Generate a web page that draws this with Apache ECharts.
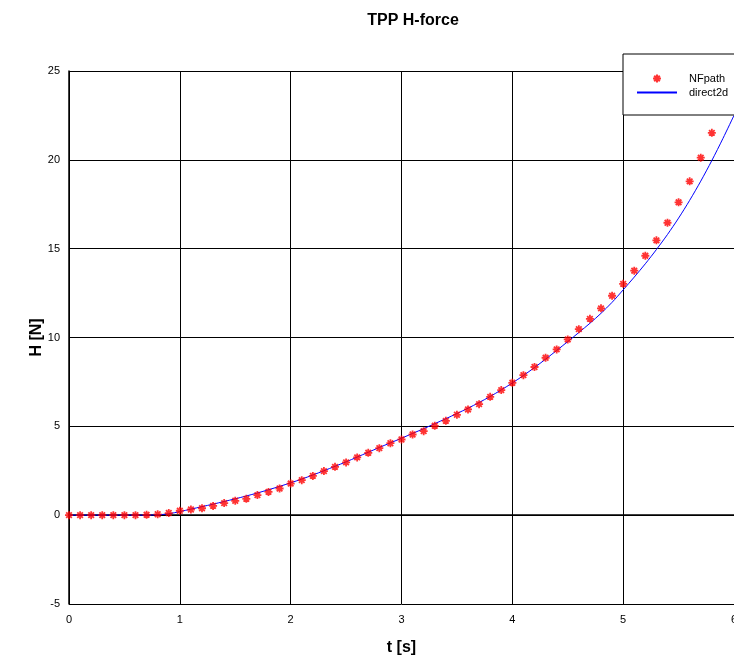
<!DOCTYPE html>
<html>
<head>
<meta charset="utf-8">
<script src="https://cdn.jsdelivr.net/npm/echarts@6/dist/echarts.min.js"></script>
<style>
  html, body { margin: 0; padding: 0; background: #fff; }
  #chart { width: 734px; height: 665px; }
</style>
</head>
<body>
<div id="chart"></div>
<script>
// NFpath samples (t step 0.1 s)
var nfT = [0, 0.1, 0.2, 0.3, 0.4, 0.5, 0.6, 0.7, 0.8, 0.9,
  1.0, 1.1, 1.2, 1.3, 1.4, 1.5, 1.6, 1.7, 1.8, 1.9,
  2.0, 2.1, 2.2, 2.3, 2.4, 2.5, 2.6, 2.7, 2.8, 2.9,
  3.0, 3.1, 3.2, 3.3, 3.4, 3.5, 3.6, 3.7, 3.8, 3.9,
  4.0, 4.1, 4.2, 4.3, 4.4, 4.5, 4.6, 4.7, 4.8, 4.9,
  5.0, 5.1, 5.2, 5.3, 5.4, 5.5, 5.6, 5.7, 5.8];
var nfH = [0, 0, 0, 0, 0, 0, 0, 0.02, 0.05, 0.12,
  0.25, 0.32, 0.39, 0.52, 0.68, 0.81, 0.92, 1.13, 1.31, 1.50,
  1.78, 1.97, 2.21, 2.48, 2.72, 2.97, 3.25, 3.51, 3.77, 4.05,
  4.26, 4.54, 4.73, 5.03, 5.31, 5.65, 5.95, 6.25, 6.66, 7.04,
  7.45, 7.88, 8.34, 8.86, 9.33, 9.89, 10.47, 11.05, 11.64, 12.35,
  13.02, 13.76, 14.60, 15.47, 16.46, 17.61, 18.79, 20.12, 21.52];

// direct2d curve
var d2T = [0, 0.2, 0.4, 0.6, 0.8, 0.9,
  1.0, 1.1, 1.2, 1.3, 1.4, 1.5, 1.6, 1.7, 1.8, 1.9,
  2.0, 2.1, 2.2, 2.3, 2.4, 2.5, 2.6, 2.7, 2.8, 2.9,
  3.0, 3.1, 3.2, 3.3, 3.4, 3.5, 3.6, 3.7, 3.8, 3.9,
  4.0, 4.1, 4.2, 4.3, 4.4, 4.5, 4.6, 4.7, 4.8, 4.9,
  5.0, 5.1, 5.2, 5.3, 5.4, 5.5, 5.6, 5.7, 5.8, 5.9, 6.0];
var d2H = [0, 0, 0, 0, 0.02, 0.08,
  0.2, 0.34, 0.48, 0.62, 0.77, 0.92, 1.08, 1.25, 1.43, 1.62,
  1.82, 2.03, 2.26, 2.50, 2.75, 3.00, 3.27, 3.54, 3.81, 4.07,
  4.33, 4.60, 4.87, 5.15, 5.43, 5.72, 6.02, 6.34, 6.68, 7.05,
  7.44, 7.86, 8.31, 8.78, 9.27, 9.77, 10.28, 10.80, 11.36, 11.98,
  12.68, 13.4, 14.15, 14.95, 15.8, 16.72, 17.72, 18.8, 19.96, 21.2, 22.5];

var xTicks = [0, 6, 1];   // min, max, interval
var yTicks = [-5, 25, 5];

function pairs(xs, ys) {
  return xs.map(function (x, i) { return [x, ys[i]]; });
}

var chart = echarts.init(document.getElementById('chart'));

var font = 'Liberation Sans, Arial, sans-serif';
var gridLine = { show: true, lineStyle: { color: '#000', width: 1, type: 'solid' } };
var star = 'path://M0,5 L10,5 M5,0 L5,10 M1.5,1.5 L8.5,8.5 M8.5,1.5 L1.5,8.5';

chart.setOption({
  animation: false,
  backgroundColor: '#fff',
  title: {
    text: 'TPP H-force',
    left: 408, top: 8, textAlign: 'center',
    textStyle: { fontFamily: font, fontWeight: 'bold', fontSize: 16, color: '#000' }
  },
  legend: {
    orient: 'vertical',
    left: 623, top: 54,
    padding: [19, 60, 17, 13],
    itemWidth: 40, itemHeight: 8, itemGap: 3,
    backgroundColor: '#fff',
    borderColor: '#000', borderWidth: 1,
    textStyle: { fontFamily: font, fontSize: 11, color: '#000', padding: [0, 0, 0, 7] },
    data: [
      { name: 'NFpath' },
      { name: 'direct2d', itemStyle: { opacity: 0 } }
    ]
  },
  grid: { left: 69, top: 71, right: 0, bottom: 61, outerBoundsMode: 'none' },
  xAxis: {
    type: 'value',
    min: xTicks[0], max: xTicks[1], interval: xTicks[2],
    name: 't [s]', nameLocation: 'middle', nameGap: 36,
    nameTextStyle: { fontFamily: font, fontWeight: 'bold', fontSize: 16, color: '#000' },
    axisLine: { show: true, lineStyle: { color: '#000', width: 1.5 } },
    axisTick: { show: true, inside: true, length: 5, lineStyle: { color: '#000' } },
    axisLabel: { fontFamily: font, fontSize: 11, color: '#000', margin: 10 },
    splitLine: gridLine
  },
  yAxis: {
    type: 'value',
    min: yTicks[0], max: yTicks[1], interval: yTicks[2],
    name: 'H [N]', nameLocation: 'middle', nameGap: 24, nameRotate: 90,
    nameMoveOverlap: false,
    nameTextStyle: { fontFamily: font, fontWeight: 'bold', fontSize: 16, color: '#000' },
    axisLine: { show: true, lineStyle: { color: '#000', width: 1.5 } },
    axisTick: { show: true, inside: true, length: 5, lineStyle: { color: '#000' } },
    axisLabel: { fontFamily: font, fontSize: 11, color: '#000', margin: 9 },
    splitLine: gridLine
  },
  series: [
    {
      name: 'direct2d',
      type: 'line',
      data: pairs(d2T, d2H),
      smooth: 0.3,
      symbol: 'none',
      lineStyle: { color: '#0000ff', width: 1 },
      itemStyle: { color: '#0000ff' },
      z: 2
    },
    {
      name: 'NFpath',
      type: 'scatter',
      data: pairs(nfT, nfH),
      symbol: star,
      symbolSize: 8,
      itemStyle: { color: '#ff0000', borderColor: '#ff0000', borderWidth: 1.8 },
      z: 3
    }
  ]
});
</script>
</body>
</html>
